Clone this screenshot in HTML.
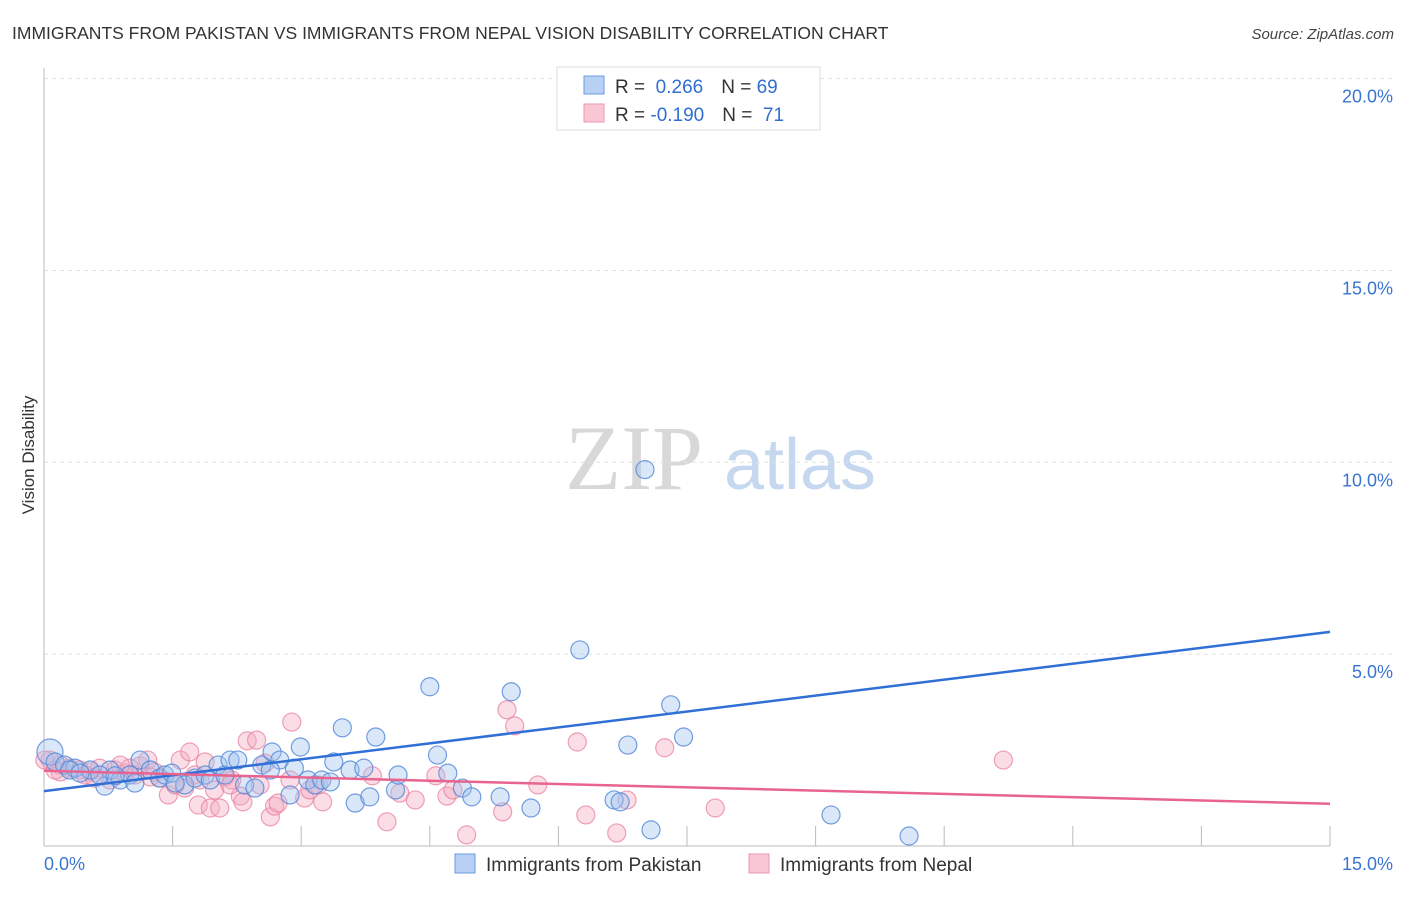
<!DOCTYPE html>
<html><head><meta charset="utf-8"><style>
body{margin:0;background:#fff;font-family:"Liberation Sans",sans-serif;}
</style></head><body>
<svg width="1406" height="892" xmlns="http://www.w3.org/2000/svg" font-family="Liberation Sans, sans-serif">
<text x="12" y="39" font-size="17.5" fill="#333">IMMIGRANTS FROM PAKISTAN VS IMMIGRANTS FROM NEPAL VISION DISABILITY CORRELATION CHART</text>
<text x="1394" y="39" font-size="15" fill="#444" font-style="italic" text-anchor="end">Source: ZipAtlas.com</text>
<g>
<text x="634" y="489" font-size="92" font-family="Liberation Serif, serif" fill="#d8d8d8" text-anchor="middle">ZIP</text>
<text x="800" y="489" font-size="72" fill="#c6d8f0" text-anchor="middle">atlas</text>
</g>
<g id="grid"></g>
<g id="axes"></g>
<g id="pts"></g>
<g id="trend"></g>
<text transform="translate(34,455) rotate(-90)" font-size="17" fill="#333" text-anchor="middle">Vision Disability</text>
<g>
<rect x="557" y="67" width="263" height="63" fill="#fff" stroke="#ddd"/>
<rect x="584" y="76" width="20" height="18" fill="#b7d0f3" stroke="#6b9be0"/>
<rect x="584" y="104" width="20" height="18" fill="#f9c6d4" stroke="#ec95b0"/>
<text x="615" y="93" font-size="19" fill="#333">R = <tspan fill="#2f6fd0">&#160;0.266</tspan><tspan dx="18">N = </tspan><tspan fill="#2f6fd0">69</tspan></text>
<text x="615" y="121" font-size="19" fill="#333">R = <tspan fill="#2f6fd0">-0.190</tspan><tspan dx="18">N = </tspan><tspan fill="#2f6fd0">&#160;71</tspan></text>
</g>
<g>
<rect x="455" y="854" width="20" height="19" fill="#b7d0f3" stroke="#6b9be0"/>
<text x="486" y="871" font-size="19" fill="#333">Immigrants from Pakistan</text>
<rect x="749" y="854" width="20" height="19" fill="#f9c6d4" stroke="#ec95b0"/>
<text x="780" y="871" font-size="19" fill="#333">Immigrants from Nepal</text>
</g>
</svg>
<script>
const yTicks=[5,10,15,20];
const yTickLabels=["5.0%","10.0%","15.0%","20.0%"];
const xTickLabels=["0.0%","15.0%"];
const pakX=[.07,.13,.24,.36,.54,.71,.77,.89,1.00,1.06,1.12,1.24,1.35,1.41,1.49,1.64,1.76,1.88,1.94,2.03,2.11,2.17,2.26,2.34,2.46,2.54,2.66,2.75,2.87,2.92,2.99,3.08,3.16,3.24,3.34,3.38,3.48,3.57,3.63,3.73,3.80,3.87,4.10,4.13,4.50,4.59,4.71,4.88,4.99,5.32,5.45,5.68,6.25,6.65,6.72,6.81,7.01,7.08,7.31,7.46,9.18,10.09,.30,.42,.65,.83,1.53,2.64];
const pakY=[2.45,2.19,2.11,2.03,1.98,1.56,1.98,1.72,1.85,1.64,2.24,1.98,1.77,1.85,1.90,1.59,1.77,1.85,1.72,2.11,1.85,2.24,2.24,1.59,1.51,2.11,2.45,2.24,1.33,2.03,2.58,1.72,1.59,1.72,1.67,2.19,3.08,1.98,1.12,2.03,1.28,2.84,1.46,1.85,4.15,2.37,1.90,1.51,1.28,1.28,4.02,.99,5.11,1.20,1.15,2.63,9.81,.42,3.68,2.84,.81,.26,1.98,1.90,1.85,1.83,1.64,1.98];
const nepX=[.07,.19,.30,.42,.54,.65,.83,.94,1.06,1.12,1.21,1.29,1.35,1.45,1.53,1.59,1.70,1.76,1.80,1.88,1.94,1.99,2.05,2.11,2.19,2.29,2.32,2.37,2.48,2.58,2.64,2.69,2.73,2.89,3.04,3.20,3.25,3.83,4.00,4.15,4.33,4.57,4.70,4.77,4.93,5.35,5.40,5.49,5.76,6.22,6.32,6.68,6.80,7.24,7.83,11.19,.19,.48,.77,1.00,1.24,1.64,1.82,2.17,2.52,2.87,3.10,.01,.13,.59,.89];
const nepY=[2.24,2.11,2.03,1.98,1.93,2.03,1.98,1.90,1.85,2.09,2.24,1.93,1.77,1.33,1.59,2.24,2.45,1.85,1.07,2.19,.99,1.46,.99,1.80,1.72,1.30,1.15,2.74,2.76,2.16,.76,1.04,1.12,3.23,1.25,1.59,1.15,1.83,.63,1.38,1.20,1.83,1.30,1.46,.29,.89,3.55,3.13,1.59,2.71,.81,.34,1.20,2.56,.99,2.24,1.93,1.85,1.72,2.03,1.80,1.51,1.72,1.59,1.59,1.72,1.46,2.24,1.98,1.77,2.11];
const pakTrend=[1.43,5.58];
const nepTrend=[1.96,1.10];
const NS="http://www.w3.org/2000/svg";
const X0=44,X1=1330,Y0=846,PXY=38.37;
const sx=v=>X0+(v/15)*(X1-X0);
const sy=v=>Y0-v*PXY;
function mk(tag,attrs,parent){const e=document.createElementNS(NS,tag);for(const k in attrs)e.setAttribute(k,attrs[k]);parent.appendChild(e);return e;}
const grid=document.getElementById('grid'),axes=document.getElementById('axes');
yTicks.forEach((t,i)=>{
 const l=mk('line',{x1:X0,x2:1395,y1:sy(t),y2:sy(t),stroke:'#e2e2e2','stroke-dasharray':'4,4'},grid);
 
 
 const tx=mk('text',{x:1393,y:sy(t)+24,'font-size':18,fill:'#3a76d0','text-anchor':'end'},axes);
 tx.textContent=yTickLabels[i];
 
 
});
mk('line',{x1:X0,x2:X0,y1:68,y2:Y0,stroke:'#bbb'},axes);
mk('line',{x1:X0,x2:X1,y1:Y0,y2:Y0,stroke:'#bbb'},axes);
for(let i=1;i<=10;i++){mk('line',{x1:sx(i*1.5),x2:sx(i*1.5),y1:826,y2:Y0,stroke:'#bbb'},axes);}
const xl0=mk('text',{x:44,y:870,'font-size':18,fill:'#3a76d0'},axes);xl0.textContent=xTickLabels[0];


const xl1=mk('text',{x:1393,y:870,'font-size':18,fill:'#3a76d0','text-anchor':'end'},axes);xl1.textContent=xTickLabels[1];


const pts=document.getElementById('pts');
nepX.forEach((v,i)=>{const c=mk('circle',{cx:sx(v),cy:sy(nepY[i]),r:9,fill:'rgba(244,170,192,0.4)',stroke:'rgba(232,130,160,0.75)','stroke-width':1.2},pts);
 
 });
pakX.forEach((v,i)=>{const c=mk('circle',{cx:sx(v),cy:sy(pakY[i]),r:i===0?13:9,fill:'rgba(160,195,240,0.4)',stroke:'rgba(80,135,215,0.8)','stroke-width':1.2},pts);
 
 });
const tr=document.getElementById('trend');
const lb=mk('line',{x1:sx(0),y1:sy(pakTrend[0]),x2:sx(15),y2:sy(pakTrend[1]),stroke:'#2f6fd6','stroke-width':2.5},tr);


const lp=mk('line',{x1:sx(0),y1:sy(nepTrend[0]),x2:sx(15),y2:sy(nepTrend[1]),stroke:'#e8648f','stroke-width':2.5},tr);


</script>
</body></html>
